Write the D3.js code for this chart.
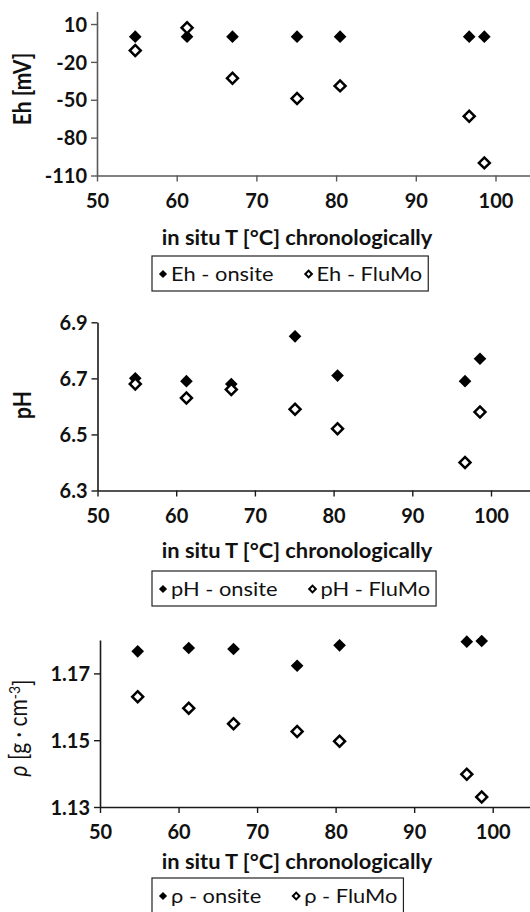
<!DOCTYPE html>
<html>
<head>
<meta charset="utf-8">
<script src="https://cdn.jsdelivr.net/npm/d3@7"></script>
<style>
  body { margin: 0; background: #fff; }
  svg { display: block; }
</style>
</head>
<body>
<svg id="chart" width="530" height="912"></svg>
<script>
// In situ temperature of each sample, in chronological order
const temperature = [54.8, 61.3, 67.0, 75.1, 80.5, 96.7, 98.6];

// Redox potential Eh [mV]
const ehOnsite = [0, 0, 0, 0, 0, 0, 0];
const ehFluMo  = [-11, 7, -33, -49, -39, -63, -100];

// pH
const phOnsite = [6.70, 6.69, 6.68, 6.85, 6.71, 6.69, 6.77];
const phFluMo  = [6.68, 6.63, 6.66, 6.59, 6.52, 6.40, 6.58];

// Density rho [g·cm-3]
const rhoOnsite = [1.1766, 1.1776, 1.1773, 1.1723, 1.1784, 1.1795, 1.1797];
const rhoFluMo  = [1.1630, 1.1596, 1.1549, 1.1526, 1.1497, 1.1398, 1.1330];

// Axis ticks
const xTicks   = [50, 60, 70, 80, 90, 100];
const ehTicks  = [-110, -80, -50, -20, 10];
const phTicks  = [6.3, 6.5, 6.7, 6.9];
const rhoTicks = [1.13, 1.15, 1.17];

const xTitle = "in situ T [°C] chronologically";

const svg = d3.select("#chart");
const FONT = "Lato, Carlito, Calibri, sans-serif";
const SX_TITLE = 1.04;    // horizontal glyph stretch of axis titles
const SX_LEGEND = 1.15;   // horizontal glyph stretch of legend labels
const W = 530;

// plain hyphen for negative numbers
const hyphen = f => d => f(d).replace("\u2212", "-");

const panels = [
  { key: "Eh", onsite: ehOnsite, flumo: ehFluMo, yDomain: [-110, 20], yTicks: ehTicks,
    fmt: hyphen(d3.format("d")), left: 97, x100: 495.5, top: 11.4, bottom: 175.5,
    axisColor: "#595959", legendTop: 256, titleY: 89, titleGap: 62 },
  { key: "pH", onsite: phOnsite, flumo: phFluMo, yDomain: [6.3, 6.9], yTicks: phTicks,
    fmt: d3.format(".1f"), left: 97.5, x100: 491, top: 322.3, bottom: 490.5,
    axisColor: "#1a1a1a", legendTop: 571, titleY: 405, titleGap: 60 },
  { key: "ρ", onsite: rhoOnsite, flumo: rhoFluMo, yDomain: [1.13, 1.18], yTicks: rhoTicks,
    fmt: d3.format(".2f"), left: 100, x100: 492.7, top: 640, bottom: 807,
    axisColor: "#1a1a1a", legendTop: 878, titleY: 728, titleGap: 55 }
];

const square = (area) => d3.symbol(d3.symbolSquare, area)();

function stretchedText(g, x, y, txt, sx) {
  return g.append("text")
    .attr("transform", `translate(${x},${y}) scale(${sx},1)`)
    .attr("font-family", FONT)
    .text(txt);
}

panels.forEach(p => {
  const g = svg.append("g");

  const x = d3.scaleLinear().domain([50, 100]).range([p.left, p.x100]);
  x.domain([50, x.invert(W)]).range([p.left, W]);
  const y = d3.scaleLinear().domain(p.yDomain).range([p.bottom, p.top]);

  // x axis
  const xa = g.append("g")
    .attr("transform", `translate(0,${p.bottom})`)
    .call(d3.axisBottom(x).tickValues(xTicks).tickSize(6).tickSizeOuter(0).tickFormat(d3.format("d")));
  // y axis
  const ya = g.append("g")
    .attr("transform", `translate(${p.left},0)`)
    .call(d3.axisLeft(y).tickValues(p.yTicks).tickSize(6).tickSizeOuter(0).tickFormat(p.fmt));

  [xa, ya].forEach(a => {
    a.select(".domain").attr("stroke", p.axisColor).attr("stroke-width", 1.6);
    a.selectAll(".tick line").attr("stroke", p.axisColor).attr("stroke-width", 1.4);
    a.selectAll(".tick text")
      .attr("font-family", FONT).attr("font-weight", "bold")
      .attr("font-size", 20).attr("fill", "#111");
  });
  xa.selectAll(".tick text").attr("y", 0).attr("dy", "1.6em");
  ya.selectAll(".tick text").attr("x", -10).attr("dy", "0.36em");

  // x axis title
  stretchedText(g, 297, p.bottom + p.titleGap, xTitle, SX_TITLE)
    .attr("text-anchor", "middle").attr("dy", "0.35em").attr("font-weight", "bold")
    .attr("font-size", 21).attr("fill", "#111");

  // y axis title
  const yt = g.append("text")
    .attr("transform", `translate(${p.key === "ρ" ? 27 : 31},${p.titleY}) rotate(-90) scale(1,${SX_LEGEND})`)
    .attr("text-anchor", "middle")
    .attr("font-family", FONT).attr("font-size", 21).attr("fill", "#111");
  if (p.key === "Eh") {
    yt.attr("font-weight", "bold").text("Eh [mV]");
  } else if (p.key === "pH") {
    yt.attr("font-weight", "bold").text("pH");
  } else {
    yt.append("tspan").attr("font-style", "italic").text("ρ");
    yt.append("tspan").text(" [g · cm");
    yt.append("tspan").attr("dy", "-0.45em").attr("font-size", 14).text("-3");
    yt.append("tspan").attr("dy", "0.45em").text("]");
  }

  const pts = temperature.map((t, i) => ({ t, on: p.onsite[i], fm: p.flumo[i] }));

  // onsite: filled diamonds
  g.selectAll(".on").data(pts).join("path")
    .attr("d", square(80))
    .attr("transform", d => `translate(${x(d.t)},${y(d.on)}) rotate(45)`)
    .attr("fill", "#000");

  // FluMo: hollow diamonds
  g.selectAll(".fm").data(pts).join("path")
    .attr("d", square(60))
    .attr("transform", d => `translate(${x(d.t)},${y(d.fm)}) rotate(45)`)
    .attr("fill", "#fff").attr("stroke", "#000").attr("stroke-width", 2.5);

  // legend
  const lg = g.append("g");
  const labels = [`${p.key} - onsite`, `${p.key} - FluMo`];
  const ly = p.legendTop + 18;
  let cx = 152 + 11;
  const box = lg.append("rect")
    .attr("x", 152).attr("y", p.legendTop).attr("height", 35)
    .attr("fill", "#fff").attr("stroke", "#222").attr("stroke-width", 1.2);
  labels.forEach((lab, i) => {
    lg.append("path")
      .attr("d", square(i === 0 ? 34 : 22))
      .attr("transform", `translate(${cx},${ly}) rotate(45)`)
      .attr("fill", i === 0 ? "#000" : "#fff")
      .attr("stroke", i === 0 ? "none" : "#000").attr("stroke-width", 2);
    const t = stretchedText(lg, cx + 8, ly, lab, SX_LEGEND)
      .attr("dy", "0.35em").attr("font-size", 19).attr("fill", "#111");
    const w = t.node().getComputedTextLength() * SX_LEGEND;
    cx = cx + 8 + w + (i === 0 ? 35 : 0);
  });
  box.attr("width", cx + 6 - 152);
});
</script>
</body>
</html>
